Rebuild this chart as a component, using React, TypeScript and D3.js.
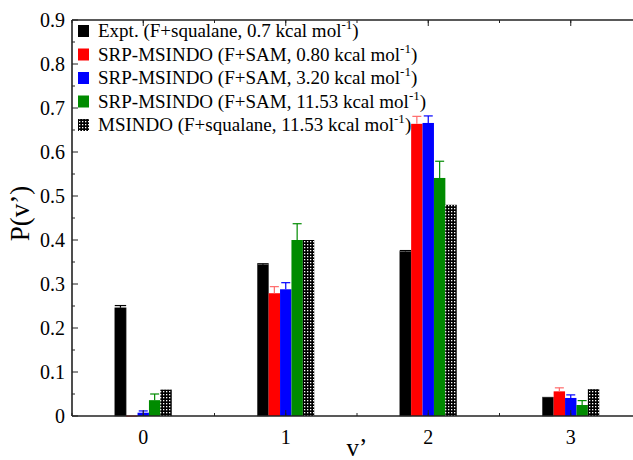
import React from "react";
import * as d3 from "d3";

// vibrational states v'
const states = [0, 1, 2, 3];

const seriesNames = ["expt", "srp080", "srp320", "srp1153", "msindo"];
const exptValues = [0.246, 0.344, 0.374, 0.043];
const exptErrors = [0.005, 0.002, 0.002, 0.0];
const srp080Values = [0.001, 0.279, 0.664, 0.056];
const srp080Errors = [0.0, 0.015, 0.017, 0.008];
const srp320Values = [0.0075, 0.288, 0.666, 0.041];
const srp320Errors = [0.004, 0.015, 0.016, 0.007];
const srp1153Values = [0.036, 0.4, 0.541, 0.025];
const srp1153Errors = [0.014, 0.037, 0.038, 0.01];
const msindoValues = [0.06, 0.4, 0.48, 0.061];

const yTicks = [0, 0.1, 0.2, 0.3, 0.4, 0.5, 0.6, 0.7, 0.8, 0.9];
const legendLabels = [
  ["Expt. (F+squalane, 0.7 kcal mol", ")"],
  ["SRP-MSINDO (F+SAM, 0.80 kcal mol", ")"],
  ["SRP-MSINDO (F+SAM, 3.20 kcal mol", ")"],
  ["SRP-MSINDO (F+SAM, 11.53 kcal mol", ")"],
  ["MSINDO (F+squalane, 11.53 kcal mol", ")"],
];

const width = 633;
const height = 460;
const margin = { top: 20, left: 72, bottom: 44 };
const FONT = "Liberation Serif";

export default function App() {
  const x = d3.scaleLinear().domain([-0.5, 3.5]).range([margin.left, 642]);
  const y = d3.scaleLinear().domain([0, 0.9]).range([height - margin.bottom, margin.top]);
  const barW = 0.08; // in v' units
  const bw = x(barW) - x(0);

  const series = [
    { key: seriesNames[0], values: exptValues, errors: exptErrors, fill: "#000", err: "#000" },
    { key: seriesNames[1], values: srp080Values, errors: srp080Errors, fill: "#ff0000", err: "#ff6a6a" },
    { key: seriesNames[2], values: srp320Values, errors: srp320Errors, fill: "#0000ff", err: "#0000ff" },
    { key: seriesNames[3], values: srp1153Values, errors: srp1153Errors, fill: "#008b00", err: "#008b00" },
    { key: seriesNames[4], values: msindoValues, errors: null, fill: "url(#checker)", err: "#000" },
  ];

  const y0 = y(0);
  const axisColor = "#222";
  const minorX = d3.range(-0.5, 3.51, 0.5);
  const minorY = d3.range(0.05, 0.9, 0.1);

  return (
    <svg
      width={width}
      height={height}
      fontFamily={FONT}
      style={{ position: "absolute", left: 0, top: 0, background: "#fff", fontFamily: FONT }}
    >
      <defs>
        <pattern id="checker" width={3} height={3} patternUnits="userSpaceOnUse">
          <rect width={3} height={3} fill="#000" />
          <rect x={1} y={1} width={1.3} height={1.3} fill="#fff" />
        </pattern>
      </defs>

      {/* bars */}
      {series.map((s, si) => (
        <g key={s.key}>
          {states.map((st, i) => {
            const cx = st + (si - 2) * barW;
            const v = s.values[i];
            const bx = x(cx - barW / 2);
            return (
              <g key={st}>
                <rect
                  x={bx}
                  y={y(v)}
                  width={bw}
                  height={Math.max(y0 - y(v), 1)}
                  fill={s.fill}
                  stroke={si === 0 ? "#555" : "none"}
                  strokeWidth={0.5}
                />
                {s.errors && s.errors[i] > 0 && (
                  <g stroke={s.err} strokeWidth={1.2}>
                    <line x1={x(cx)} x2={x(cx)} y1={y(v)} y2={y(v + s.errors[i])} />
                    <line
                      x1={x(cx) - (si === 0 ? bw / 2 : 4.5)}
                      x2={x(cx) + (si === 0 ? bw / 2 : 4.5)}
                      y1={y(v + s.errors[i])}
                      y2={y(v + s.errors[i])}
                    />
                  </g>
                )}
              </g>
            );
          })}
        </g>
      ))}

      {/* axes frame */}
      <g stroke={axisColor} strokeWidth={1.6} fill="none">
        <line x1={margin.left} x2={width} y1={y0} y2={y0} />
        <line x1={margin.left} x2={width} y1={margin.top} y2={margin.top} />
        <line x1={margin.left} x2={margin.left} y1={margin.top} y2={y0} />
      </g>
      <g stroke={axisColor} strokeWidth={1}>
        {yTicks.map((t) => (
          <line key={"yt" + t} x1={margin.left} x2={margin.left + 6} y1={y(t)} y2={y(t)} />
        ))}
        {minorY.map((t) => (
          <line key={"ym" + t} x1={margin.left} x2={margin.left + 3} y1={y(t)} y2={y(t)} />
        ))}
        {states.map((t) => (
          <g key={"xt" + t}>
            <line x1={x(t)} x2={x(t)} y1={y0} y2={y0 - 6} />
            <line x1={x(t)} x2={x(t)} y1={margin.top} y2={margin.top + 6} />
          </g>
        ))}
        {minorX.map((t) => (
          <g key={"xm" + t}>
            <line x1={x(t)} x2={x(t)} y1={y0} y2={y0 - 3} />
            <line x1={x(t)} x2={x(t)} y1={margin.top} y2={margin.top + 3} />
          </g>
        ))}
      </g>

      {/* tick labels */}
      {yTicks.map((t) => (
        <text key={"yl" + t} fontFamily={FONT} fontSize={20} x={margin.left - 7} y={y(t)} dy="0.33em" textAnchor="end">
          {t === 0 ? "0" : d3.format(".1f")(t)}
        </text>
      ))}
      {states.map((t) => (
        <text key={"xl" + t} fontFamily={FONT} fontSize={20} x={x(t)} y={y0 + 28} textAnchor="middle">
          {t}
        </text>
      ))}

      {/* axis titles */}
      <text fontFamily={FONT} fontSize={27} textAnchor="middle" transform={`translate(29,${y(0.46)}) rotate(-90)`}>
        P(v’)
      </text>
      <text fontFamily={FONT} fontSize={25} textAnchor="middle" x={x(1.5)} y={height - 4}>
        v’
      </text>

      {/* legend */}
      {series.map((s, i) => {
        const cy = 31 + i * 23.5;
        return (
          <g key={"lg" + s.key}>
            <rect x={78} y={cy - 6} width={11} height={12} fill={s.fill} />
            <text fontFamily={FONT} fontSize={19} x={98} y={cy + 6}>
              {legendLabels[i][0]}
              <tspan fontSize={13} dy={-8}>-1</tspan>
              <tspan dy={8}>{legendLabels[i][1]}</tspan>
            </text>
          </g>
        );
      })}
    </svg>
  );
}
